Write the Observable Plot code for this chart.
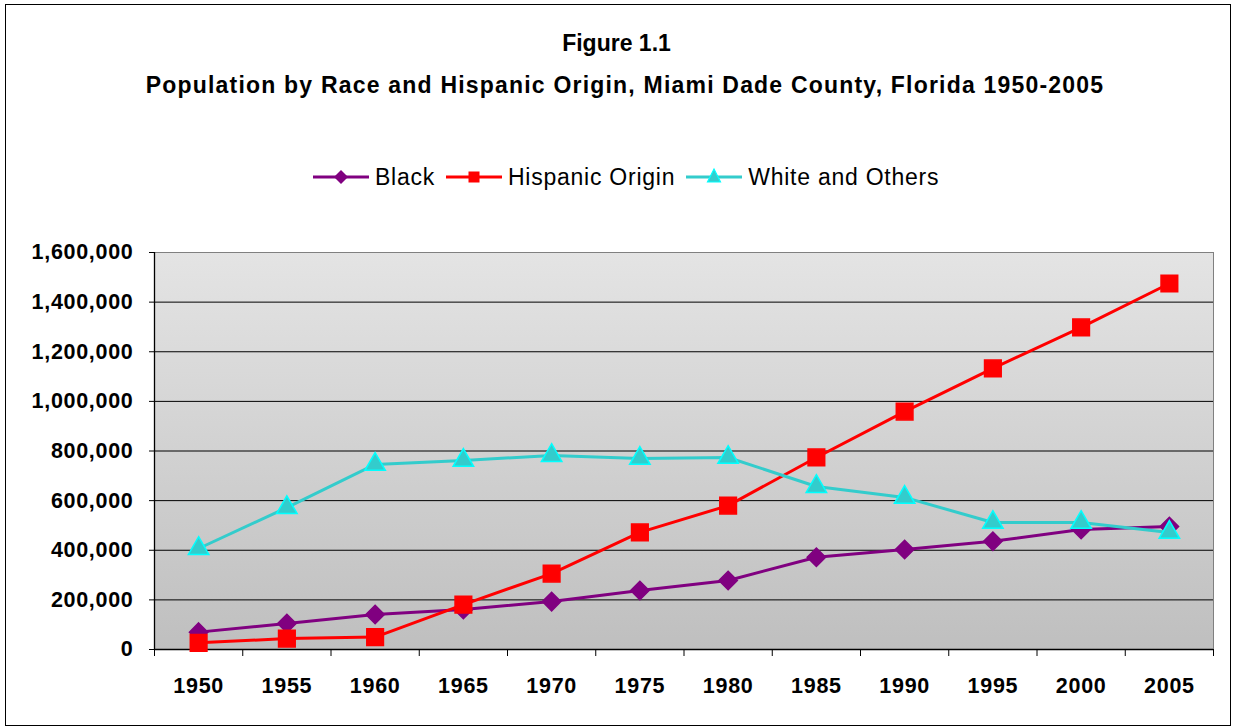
<!DOCTYPE html>
<html><head><meta charset="utf-8">
<script src="https://cdn.jsdelivr.net/npm/d3@7"></script>
<script src="https://cdn.jsdelivr.net/npm/@observablehq/plot@0.6"></script>
<style>
body{margin:0;background:#fff;font-family:"Liberation Sans",Arial,sans-serif;width:1233px;height:727px;overflow:hidden;position:relative;}
#frame{position:absolute;left:5px;top:4px;width:1226px;height:722px;border:1px solid #000;box-sizing:border-box;}
.t{position:absolute;left:0;width:1233px;text-align:center;font-weight:bold;font-size:23px;line-height:23px;white-space:nowrap;color:#000;box-sizing:border-box;}
#legend{position:absolute;top:164px;left:313px;height:26px;display:flex;align-items:center;white-space:nowrap;font-size:23px;letter-spacing:0.75px;color:#000;}
#legend .item{display:flex;align-items:center;margin-right:11px;}
#legend svg{margin-right:6px;}
#chart{position:absolute;left:0;top:220px;}
#chart svg text{letter-spacing:0.7px;}
</style></head>
<body>
<div id="frame"></div>
<div class="t" id="t1" style="top:32px;">Figure 1.1</div>
<div class="t" id="t2" style="top:74px;letter-spacing:1.2px;padding-left:17px;">Population by Race and Hispanic Origin, Miami Dade County, Florida 1950-2005</div>
<div id="legend"></div>
<div id="chart"></div>
<script>
const years = [1950, 1955, 1960, 1965, 1970, 1975, 1980, 1985, 1990, 1995, 2000, 2005];
const black = [70000, 105000, 141000, 161000, 193000, 238000, 278000, 372000, 403000, 436000, 484000, 496000];
const hispanic = [27000, 44000, 50000, 181000, 306000, 472000, 580000, 774000, 959000, 1133000, 1298000, 1475000];
const white = [407000, 572000, 746000, 762000, 782000, 770000, 774000, 657000, 613000, 512000, 512000, 472000];
const seriesNames = ["Black", "Hispanic Origin", "White and Others"];
const yTicks = [0, 200000, 400000, 600000, 800000, 1000000, 1200000, 1400000, 1600000];

const styles = [
  {line: "#800080", fill: "#800080", stroke: "#800080", symbol: "diamond2", r: 8.3},
  {line: "#ff0000", fill: "#ff0000", stroke: "#ff0000", symbol: "square", r: 9.4},
  {line: "#33cccc", fill: "#33cccc", stroke: "#00ffff", symbol: "triangle", r: 7.6}
];
const valuesList = [black, hispanic, white];
const tables = valuesList.map((vals, k) => years.map((yr, i) => ({year: yr, value: vals[i], series: seriesNames[k]})));
const xBounds = d3.range(years.length + 1).map(i => years[0] - 2.5 + 5 * i);

const seriesMarks = [];
tables.forEach((data, k) => {
  const s = styles[k];
  seriesMarks.push(Plot.line(data, {x: "year", y: "value", stroke: s.line, strokeWidth: 3}));
  seriesMarks.push(Plot.dot(data, {x: "year", y: "value", symbol: s.symbol, r: s.r, fill: s.fill, stroke: s.stroke, strokeWidth: 1.5}));
});

const plot = Plot.plot({
  width: 1233, height: 500,
  marginTop: 32, marginBottom: 71, marginLeft: 154, marginRight: 20,
  x: {type: "linear", domain: [xBounds[0], xBounds[xBounds.length - 1]]},
  y: {domain: [0, 1600000]},
  style: {fontFamily: "'Liberation Sans', Arial, sans-serif", color: "black", background: "transparent", overflow: "visible"},
  marks: [
    Plot.frame({fill: "url(#bg)", stroke: "#808080"}),
    Plot.ruleY(yTicks.slice(1, -1), {stroke: "black", strokeWidth: 1}),
    Plot.ruleY([0], {stroke: "black", strokeWidth: 1.3}),
    Plot.ruleX([xBounds[0]], {stroke: "black", strokeWidth: 1.3}),
    Plot.axisY(yTicks, {tickSize: 5, tickPadding: 16, tickFormat: d3.format(","), fontSize: 21.5, fontWeight: "bold", label: null, stroke: "black"}),
    Plot.axisX(xBounds, {tickSize: 7, tickFormat: () => "", label: null, stroke: "black"}),
    Plot.axisX(years, {tickSize: 0, tickPadding: 28, tickFormat: d => String(d), fontSize: 21.5, fontWeight: "bold", label: null}),
    ...seriesMarks
  ]
});

const svg = d3.select(plot);
const defs = svg.insert("defs", ":first-child");
const grad = defs.append("linearGradient").attr("id", "bg").attr("x1", 0).attr("y1", 0).attr("x2", 0).attr("y2", 1);
grad.append("stop").attr("offset", 0).attr("stop-color", "#e4e4e4");
grad.append("stop").attr("offset", 1).attr("stop-color", "#bfbfbf");
document.getElementById("chart").appendChild(plot);

// legend
const legend = d3.select("#legend");
const legendShapes = [
  (g, s) => g.append("polygon").attr("points", "28,5 35,12 28,19 21,12").attr("fill", s.fill),
  (g, s) => g.append("rect").attr("x", 22.5).attr("y", 6.5).attr("width", 11).attr("height", 11).attr("fill", s.fill),
  (g, s) => g.append("polygon").attr("points", "28,4 34.5,17 21.5,17").attr("fill", s.fill).attr("stroke", s.stroke).attr("stroke-width", 1.2)
];
seriesNames.forEach((name, k) => {
  const s = styles[k];
  const item = legend.append("div").attr("class", "item");
  const sv = item.append("svg").attr("width", 56).attr("height", 24);
  sv.append("line").attr("x1", 0).attr("x2", 56).attr("y1", 12).attr("y2", 12).attr("stroke", s.line).attr("stroke-width", 3);
  legendShapes[k](sv, s);
  item.append("span").text(name);
});
</script>
</body></html>
